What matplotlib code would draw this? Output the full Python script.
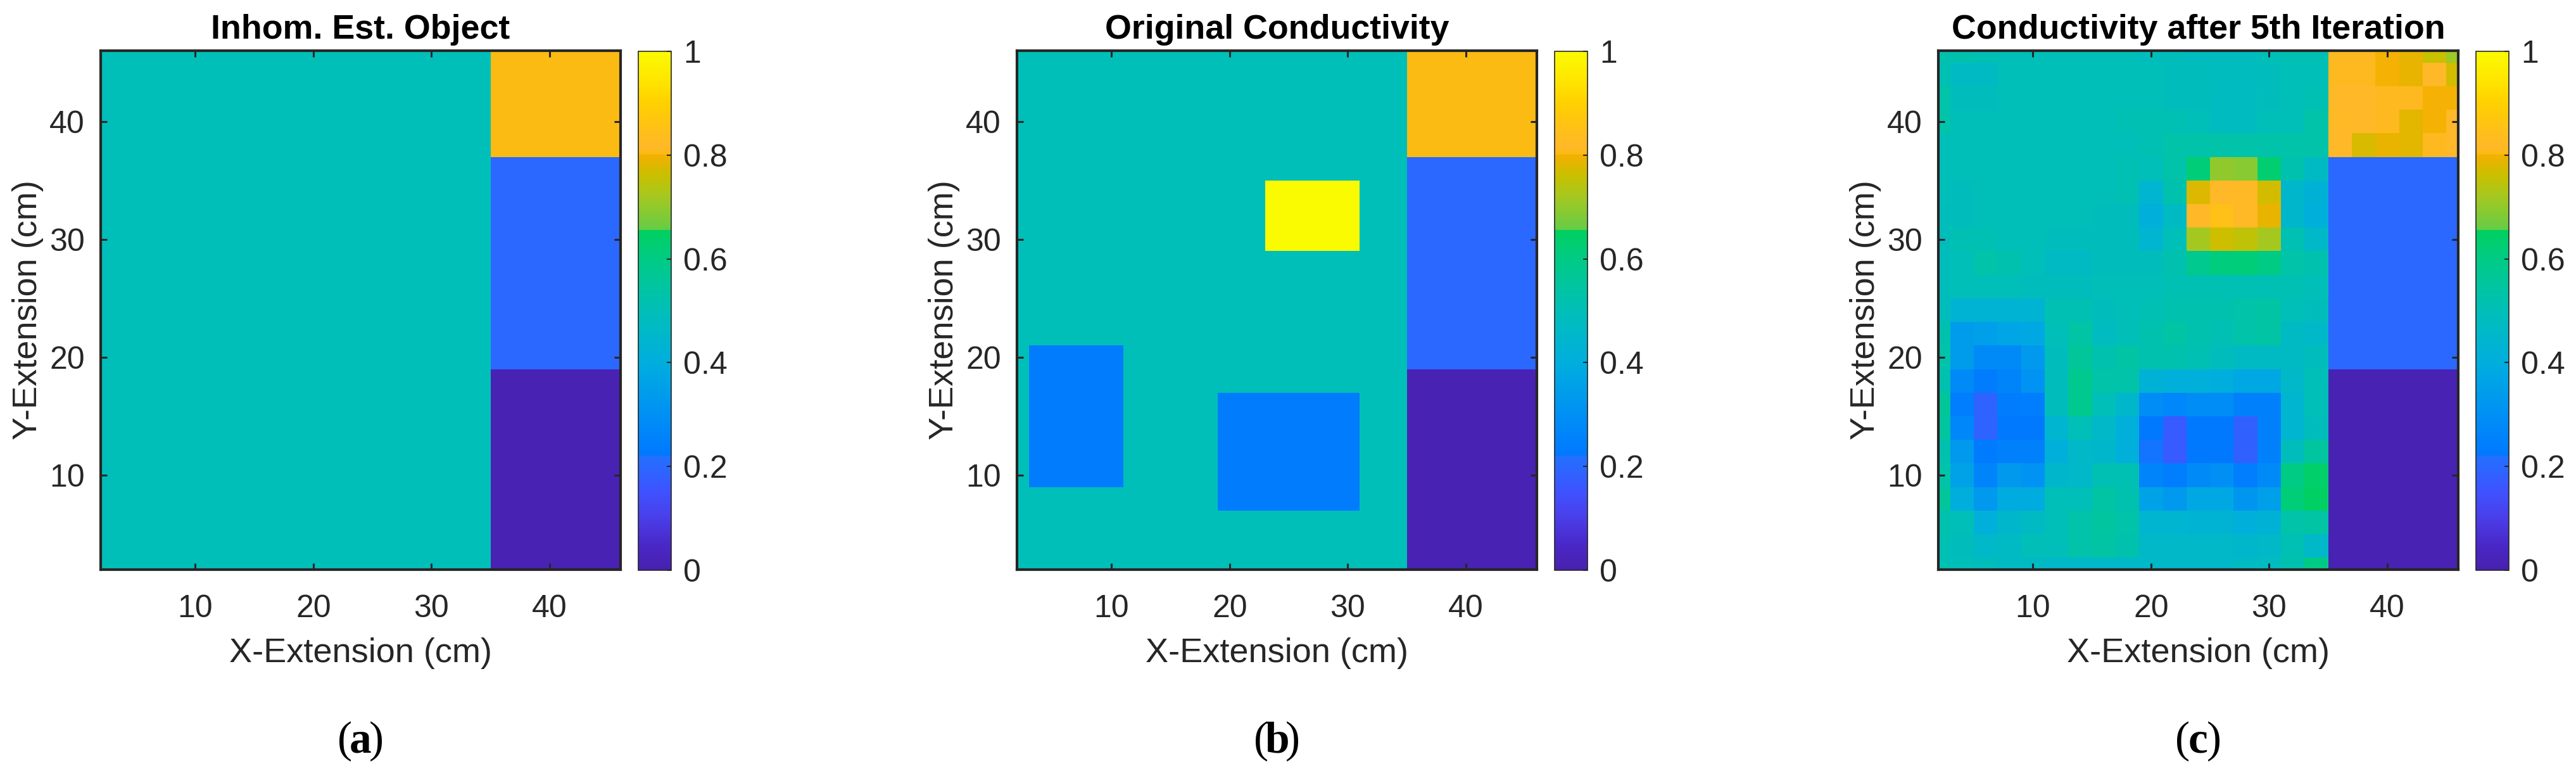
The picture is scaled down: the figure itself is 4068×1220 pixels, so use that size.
import numpy as np
import matplotlib
matplotlib.use("Agg")
import matplotlib.pyplot as plt
from matplotlib.colors import LinearSegmentedColormap

W, H = 4068, 1220
plt.rcParams['font.family'] = ['Liberation Sans', 'DejaVu Sans']

# cell centres of the 23 x 23 grid (cm)
x_centres = np.arange(2, 48, 2)
y_centres = np.arange(46, 0, -2)

titles = ["Inhom. Est. Object", "Original Conductivity", "Conductivity after 5th Iteration"]
panel_tags = ["a", "b", "c"]
xy_ticks = [10, 20, 30, 40]
cbar_ticks = [0, 0.2, 0.4, 0.6, 0.8, 1]
cbar_labels = ["0", "0.2", "0.4", "0.6", "0.8", "1"]

# colormap
cmap_pos = [0, 0.05, 0.10, 0.15, 0.20, 0.219, 0.221, 0.30, 0.40, 0.50, 0.60, 0.655, 0.657,
            0.72, 0.76, 0.79, 0.80, 0.803, 0.815, 0.85, 0.90, 0.95, 1]
cmap_col = ["#4720ad", "#4a28c8", "#4a3ee8", "#3f52ff", "#2a68ff", "#2470ff", "#0078ff", "#0090f5",
            "#00aede", "#00bfb8", "#00cb85", "#00d060", "#65cc45",
            "#a5c820", "#c8c000", "#e8b400", "#f4b000", "#fbbb12", "#ffb828", "#ffc018",
            "#ffd000", "#ffe800", "#fafa00"]

background = 0.5
wall_top = 0.803
wall_mid = 0.20
wall_low = 0.01
object_high = 1.0
object_low = 0.235

# reconstruction, left part x = 2..34, rows from y = 46 down to y = 2
recon_left = [
    [.52, .52, .51, .50, .50, .50, .50, .50, .50, .49, .49, .485, .485, .485, .50, .51, .51],
    [.51, .47, .47, .50, .50, .50, .50, .50, .50, .50, .49, .49, .485, .485, .49, .50, .50],
    [.53, .49, .49, .50, .50, .50, .50, .50, .50, .50, .49, .49, .48, .48, .49, .50, .51],
    [.53, .50, .50, .50, .50, .50, .50, .50, .51, .51, .51, .50, .48, .48, .50, .50, .53],
    [.50, .50, .50, .50, .50, .50, .50, .50, .50, .51, .53, .53, .53, .53, .53, .53, .53],
    [.50, .50, .50, .50, .50, .50, .50, .50, .51, .50, .53, .62, .70, .69, .63, .52, .47],
    [.50, .49, .50, .50, .50, .50, .50, .50, .51, .44, .52, .78, .815, .82, .77, .45, .42],
    [.49, .49, .50, .50, .50, .50, .50, .49, .49, .41, .47, .815, .85, .82, .79, .45, .41],
    [.49, .51, .51, .50, .50, .49, .49, .49, .49, .44, .50, .72, .765, .75, .72, .51, .46],
    [.49, .50, .53, .52, .50, .47, .47, .49, .49, .49, .52, .58, .61, .62, .60, .53, .52],
    [.49, .50, .50, .50, .49, .49, .49, .50, .50, .50, .51, .51, .51, .51, .51, .51, .50],
    [.49, .43, .43, .43, .43, .51, .51, .49, .50, .51, .52, .52, .52, .53, .54, .50, .49],
    [.52, .34, .35, .37, .38, .50, .54, .48, .50, .52, .54, .52, .51, .53, .54, .47, .46],
    [.53, .34, .28, .28, .33, .49, .56, .52, .54, .52, .52, .51, .49, .47, .47, .47, .49],
    [.52, .28, .235, .26, .31, .49, .58, .53, .53, .42, .41, .41, .40, .38, .38, .46, .50],
    [.56, .24, .19, .235, .24, .49, .58, .50, .45, .29, .27, .29, .29, .25, .25, .44, .50],
    [.55, .27, .19, .225, .225, .44, .50, .46, .41, .225, .17, .225, .225, .185, .25, .44, .49],
    [.52, .33, .23, .25, .25, .41, .46, .45, .41, .22, .17, .225, .225, .185, .25, .49, .55],
    [.53, .36, .26, .33, .31, .45, .46, .51, .51, .26, .24, .28, .30, .24, .28, .60, .64],
    [.56, .40, .33, .39, .39, .50, .50, .54, .52, .36, .33, .38, .38, .32, .35, .62, .65],
    [.52, .50, .41, .45, .47, .50, .53, .55, .53, .44, .44, .43, .43, .41, .42, .53, .54],
    [.51, .49, .46, .47, .50, .50, .53, .54, .52, .46, .46, .46, .46, .45, .46, .51, .46],
    [.51, .50, .49, .47, .47, .46, .46, .46, .46, .46, .46, .46, .46, .47, .48, .52, .60],
]
# reconstruction, top of the wall, x = 36..46, rows y = 46..38
recon_wall_top = [
    [.81, .81, .80, .79, .76, .71],
    [.81, .81, .80, .79, .815, .77],
    [.815, .815, .81, .81, .80, .80],
    [.82, .815, .81, .785, .80, .815],
    [.815, .775, .79, .785, .81, .815],
]


def wall_grid():
    xx, yy = np.meshgrid(x_centres, y_centres)
    grid = np.full(xx.shape, background, dtype=float)
    grid[(xx >= 36) & (yy >= 38)] = wall_top
    grid[(xx >= 36) & (yy >= 20) & (yy <= 36)] = wall_mid
    grid[(xx >= 36) & (yy <= 18)] = wall_low
    return grid, xx, yy


def original_grid():
    grid, xx, yy = wall_grid()
    grid[(xx >= 24) & (xx <= 30) & (yy >= 30) & (yy <= 34)] = object_high
    grid[(xx >= 4) & (xx <= 10) & (yy >= 10) & (yy <= 20)] = object_low
    grid[(xx >= 20) & (xx <= 30) & (yy >= 8) & (yy <= 16)] = object_low
    return grid


def recon_grid():
    grid, xx, yy = wall_grid()
    grid[:, :17] = np.array(recon_left)
    grid[:5, 17:] = np.array(recon_wall_top)
    return grid


def px_axes(fig, x0, x1, y0, y1):
    # pixel box, y measured from the top of the image
    return fig.add_axes([x0 / W, 1 - y1 / H, (x1 - x0) / W, (y1 - y0) / H])


cmap = LinearSegmentedColormap.from_list("recon", list(zip(cmap_pos, cmap_col)), N=1024)

fig = plt.figure(figsize=(W / 100, H / 100), dpi=100, facecolor="white")

grids = [wall_grid()[0], original_grid(), recon_grid()]
ax_left = [159, 1606, 3061]
ax_width = 821
cb_offset = 849
cb_width = 52
ax_top, ax_bottom = 80, 899
dark = "#262626"

for grid, title, tag, left in zip(grids, titles, panel_tags, ax_left):
    ax = px_axes(fig, left, left + ax_width, ax_top, ax_bottom)
    x_edges = np.arange(1, 49, 2)
    y_edges = np.arange(47, -1, -2)
    mesh = ax.pcolormesh(x_edges, y_edges, grid, cmap=cmap, vmin=0, vmax=1, shading="flat")
    ax.set_xlim(2, 46)
    ax.set_ylim(2, 46)
    ax.set_xticks(xy_ticks)
    ax.set_yticks(xy_ticks)
    ax.tick_params(direction="in", top=True, right=True, length=7, width=2.2, color=dark,
                   labelsize=36, labelcolor=dark, pad=18)
    ax.tick_params(axis="x", pad=28)
    for spine in ax.spines.values():
        spine.set_linewidth(3)
        spine.set_color(dark)
    ax.set_xlabel("X-Extension (cm)", fontsize=39, color=dark, labelpad=16)
    ax.set_ylabel("Y-Extension (cm)", fontsize=39, color=dark, labelpad=7)
    ax.set_title(title, fontsize=38.7, fontweight="bold", color="black", pad=14)

    cax = px_axes(fig, left + cb_offset, left + cb_offset + cb_width, ax_top + 1, ax_bottom + 1)
    cb = fig.colorbar(mesh, cax=cax)
    cb.set_ticks(cbar_ticks)
    cb.set_ticklabels(cbar_labels)
    cb.ax.tick_params(direction="in", length=5, width=1.5, color=dark, labelsize=36,
                      labelcolor=dark, pad=14)
    cb.outline.set_linewidth(1.2)
    cb.outline.set_edgecolor(dark)

    # panel tag below the axes, bold letter between regular brackets
    cx = left + ax_width / 2
    fig.text((cx - 25) / W, 1 - 1170 / H, "(", family="Liberation Serif", fontsize=50, ha="center", va="center")
    fig.text(cx / W, 1 - 1170 / H, tag, family="Liberation Serif", fontsize=50, fontweight="bold", ha="center", va="center")
    fig.text((cx + 25) / W, 1 - 1170 / H, ")", family="Liberation Serif", fontsize=50, ha="center", va="center")

fig.savefig("out.png", dpi=100)
